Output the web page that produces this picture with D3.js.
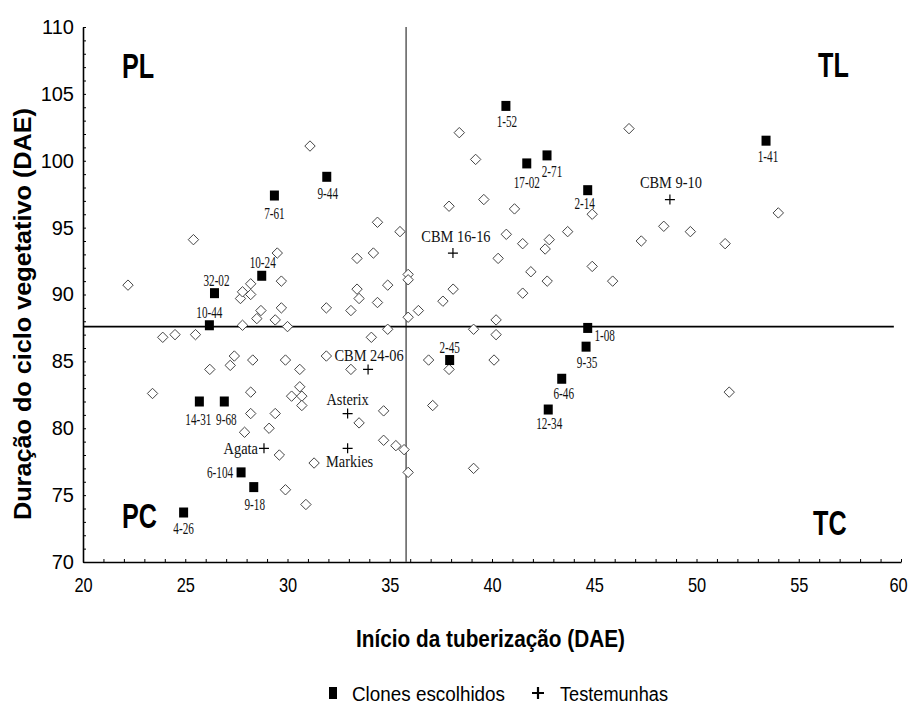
<!DOCTYPE html>
<html>
<head>
<meta charset="utf-8">
<script src="https://cdn.jsdelivr.net/npm/d3@7/dist/d3.min.js"></script>
<style>
  body { margin: 0; background: #fff; }
  svg { display: block; }
</style>
</head>
<body>
<script>
// genotipos avaliados (losangos)
const outrosX = [22.2, 23.4, 23.9, 24.5, 25.4, 25.5, 26.2, 27.2, 27.4, 28.3, 27.8, 28.5, 28.7, 29.4, 29.7, 30.0,
  29.9, 30.6, 30.6, 27.7, 27.8, 28.2, 28.2, 29.5, 29.7, 28.2, 28.2, 27.9, 29.4, 29.1, 29.6, 30.2, 30.7, 30.7,
  29.9, 30.9, 33.5, 34.7, 34.7, 35.3, 35.7, 35.9, 37.1, 39.1, 31.3, 34.4, 35.5, 34.2, 33.4, 35.9, 35.9, 33.4,
  33.5, 34.9, 34.4, 31.9, 33.1, 35.9, 36.4, 37.6, 38.1, 34.9, 34.1, 31.9, 33.1, 36.9, 37.9, 39.1, 40.2, 40.2,
  40.1, 40.3, 40.7, 31.1, 38.4, 39.2, 39.6, 37.9, 41.1, 46.7, 44.9, 54.0, 41.5, 42.8, 42.6, 43.7, 47.3, 48.4,
  49.7, 41.9, 42.7, 41.5, 44.9, 45.9, 51.4, 51.6]
const outrosY = [90.7, 82.6, 86.8, 87.0, 94.1, 87.0, 84.4, 84.7, 85.4, 85.1, 87.7, 88.2, 88.8, 88.1, 89.0, 87.6,
  85.1, 84.4, 83.1, 89.7, 90.2, 90.8, 90.0, 93.1, 91.0, 82.7, 81.1, 79.7, 81.1, 80.0, 78.0, 82.4, 82.4, 81.7,
  75.4, 74.3, 80.4, 81.3, 79.1, 78.7, 78.4, 76.7, 81.7, 77.0, 77.4, 95.4, 94.7, 93.1, 92.7, 91.5, 91.1, 90.4,
  89.7, 90.7, 89.4, 89.0, 88.8, 88.3, 88.8, 89.5, 90.4, 87.4, 86.8, 85.4, 84.4, 85.1, 84.4, 87.4, 88.1, 87.0,
  85.1, 92.7, 94.5, 101.1, 102.1, 100.1, 97.1, 96.6, 96.4, 102.4, 96.0, 96.1, 93.8, 94.1, 93.4, 94.7, 94.0, 95.1,
  94.7, 91.7, 91.0, 90.1, 92.1, 91.0, 93.8, 82.7]

// clones escolhidos
const clones = ['7-61', '9-44', '1-52', '17-02', '2-71', '2-14', '1-41', '10-24', '32-02', '10-44',
  '2-45', '1-08', '9-35', '6-46', '12-34', '14-31', '9-68', '6-104', '9-18', '4-26']
const clonesX = [29.36, 31.92, 40.68, 41.70, 42.69, 44.68, 53.40, 28.74, 26.43, 26.18,
  37.93, 44.68, 44.60, 43.41, 42.75, 25.69, 26.91, 27.73, 28.35, 24.92]
const clonesY = [97.4, 98.8, 104.1, 99.8, 100.4, 97.8, 101.5, 91.4, 90.1, 87.7,
  85.1, 87.5, 86.1, 83.7, 81.4, 82.0, 82.0, 76.7, 75.6, 73.7]

// testemunhas
const testemunhas = ['CBM 9-10', 'CBM 16-16', 'CBM 24-06', 'Asterix', 'Markies', 'Agata']
const testX = [48.70, 38.09, 33.94, 32.94, 32.94, 28.85]
const testY = [97.1, 93.1, 84.4, 81.1, 78.5, 78.5]

// medias
const mediaX = 35.8
const mediaY = 87.6

const xTicks = d3.range(20, 61, 1)
const yTicks = d3.range(70, 111, 1)

// posicao dos rotulos em relacao ao ponto (dx, dy do centro; 'end' = a esquerda)
const rotulo = {
  '7-61': [0, 18], '9-44': [1, 17], '1-52': [1, 16], '17-02': [0, 19], '2-71': [5, 16], '2-14': [-3, 13],
  '1-41': [2, 16], '10-24': [1, -13], '32-02': [2, -13], '10-44': [0, -13], '2-45': [0, -13],
  '1-08': [17, 8], '9-35': [1, 16], '6-46': [2, 15], '12-34': [1, 14], '14-31': [-1, 18], '9-68': [2, 18],
  '6-104': [-8, 0, 'end'], '9-18': [1, 17], '4-26': [0, 16],
  'CBM 9-10': [1, -17], 'CBM 16-16': [3, -17], 'CBM 24-06': [1, -14], 'Asterix': [0, -14],
  'Markies': [2, 13], 'Agata': [-6, 0, 'end']
}

const width = 911
const height = 709

const svg = d3.select('body')
  .append('svg')
  .attr('width', width)
  .attr('height', height)

const x = d3.scaleLinear().domain([20, 60]).range([83, 901])
const y = d3.scaleLinear().domain([70, 110]).range([562, 27])

const sans = "'Liberation Sans', Arial, sans-serif"
const serif = "'Liberation Serif', 'Times New Roman', serif"

// eixos com marcas internas
const xAxis = d3.axisBottom(x).tickValues(xTicks).tickSizeInner(-3).tickSizeOuter(0)
  .tickFormat(d => d % 5 === 0 ? d : '').tickPadding(16)
const yAxis = d3.axisLeft(y).tickValues(yTicks).tickSizeInner(-3).tickSizeOuter(0)
  .tickFormat(d => d % 5 === 0 ? d : '').tickPadding(9)

const gx = svg.append('g').attr('transform', 'translate(0,' + y(70) + ')').call(xAxis)
const gy = svg.append('g').attr('transform', 'translate(' + x(20) + ',0)').call(yAxis)

for (const g of [gx, gy]) {
  g.select('.domain').attr('stroke', '#000').attr('stroke-width', 1.6)
  g.selectAll('.tick line').attr('stroke', '#000').attr('stroke-width', 1)
  g.selectAll('.tick text').attr('fill', '#000').style('font-family', sans).style('font-size', '20px')
}
// rotulos do eixo x um pouco estreitos, como no original
gx.selectAll('.tick text').attr('transform', d => d === 60 ? 'translate(-3,0) scale(0.82,1)' : 'scale(0.82,1)')

// linhas das medias
svg.append('line')
  .attr('x1', x(mediaX)).attr('x2', x(mediaX))
  .attr('y1', y(110)).attr('y2', y(70))
  .attr('stroke', '#666').attr('stroke-width', 1.6)
svg.append('line')
  .attr('x1', x(20)).attr('x2', x(59.65))
  .attr('y1', y(mediaY)).attr('y2', y(mediaY))
  .attr('stroke', '#000').attr('stroke-width', 1.6)

// losangos
const dm = 5.2
svg.selectAll('path.outro')
  .data(outrosX)
  .enter().append('path')
  .attr('class', 'outro')
  .attr('d', (d, i) => {
    const cx = x(d), cy = y(outrosY[i])
    return `M${cx},${cy - dm}L${cx + dm},${cy}L${cx},${cy + dm}L${cx - dm},${cy}Z`
  })
  .attr('fill', '#fff')
  .attr('stroke', '#444')
  .attr('stroke-width', 1)

// clones escolhidos
svg.selectAll('rect.clone')
  .data(clones)
  .enter().append('rect')
  .attr('class', 'clone')
  .attr('x', (d, i) => x(clonesX[i]) - 4.5)
  .attr('y', (d, i) => y(clonesY[i]) - 5)
  .attr('width', 9)
  .attr('height', 10)
  .attr('fill', '#000')

// testemunhas
svg.selectAll('path.test')
  .data(testemunhas)
  .enter().append('path')
  .attr('class', 'test')
  .attr('d', (d, i) => {
    const cx = x(testX[i]), cy = y(testY[i])
    return `M${cx - 5},${cy}H${cx + 5}M${cx},${cy - 5}V${cy + 5}`
  })
  .attr('stroke', '#000')
  .attr('stroke-width', 1.2)

function rotular(nomes, xs, ys, sx) {
  svg.selectAll(null)
    .data(nomes)
    .enter().append('text')
    .attr('transform', (d, i) => {
      const o = rotulo[d]
      return 'translate(' + (x(xs[i]) + o[0]) + ',' + (y(ys[i]) + o[1] + 5.5) + ') scale(' + sx + ',1)'
    })
    .attr('text-anchor', d => rotulo[d][2] || 'middle')
    .style('font-family', serif)
    .style('font-size', '16px')
    .attr('fill', '#111')
    .text(d => d)
}
rotular(clones, clonesX, clonesY, 0.7)
rotular(testemunhas, testX, testY, 0.9)

// quadrantes
const quadrantes = [['PL', 122, 78], ['TL', 818, 77], ['PC', 122, 528], ['TC', 813, 535]]
svg.selectAll('text.quad')
  .data(quadrantes)
  .enter().append('text')
  .attr('class', 'quad')
  .attr('transform', d => 'translate(' + d[1] + ',' + d[2] + ') scale(0.72,1)')
  .style('font-family', sans)
  .style('font-weight', 'bold')
  .style('font-size', '35px')
  .text(d => d[0])

// titulos dos eixos
svg.append('text')
  .attr('x', 356).attr('y', 647)
  .attr('textLength', 269).attr('lengthAdjust', 'spacingAndGlyphs')
  .style('font-family', sans)
  .style('font-weight', 'bold')
  .style('font-size', '23px')
  .text('Início da tuberização (DAE)')

svg.append('text')
  .attr('transform', 'translate(31,520) rotate(-90)')
  .attr('textLength', 412).attr('lengthAdjust', 'spacingAndGlyphs')
  .style('font-family', sans)
  .style('font-weight', 'bold')
  .style('font-size', '23px')
  .text('Duração do ciclo vegetativo (DAE)')

// legenda
const leg = svg.append('g').attr('transform', 'translate(0,693)')
leg.append('rect').attr('x', 329).attr('y', -6).attr('width', 8).attr('height', 12).attr('fill', '#000')
leg.append('text').attr('x', 352).attr('y', 7.5)
  .attr('textLength', 153).attr('lengthAdjust', 'spacingAndGlyphs')
  .style('font-family', sans).style('font-size', '20px').text('Clones escolhidos')
leg.append('path').attr('d', 'M532,0H544M538,-6V6').attr('stroke', '#000').attr('stroke-width', 2.2)
leg.append('text').attr('x', 560).attr('y', 7.5)
  .attr('textLength', 108).attr('lengthAdjust', 'spacingAndGlyphs')
  .style('font-family', sans).style('font-size', '20px').text('Testemunhas')
</script>
</body>
</html>
